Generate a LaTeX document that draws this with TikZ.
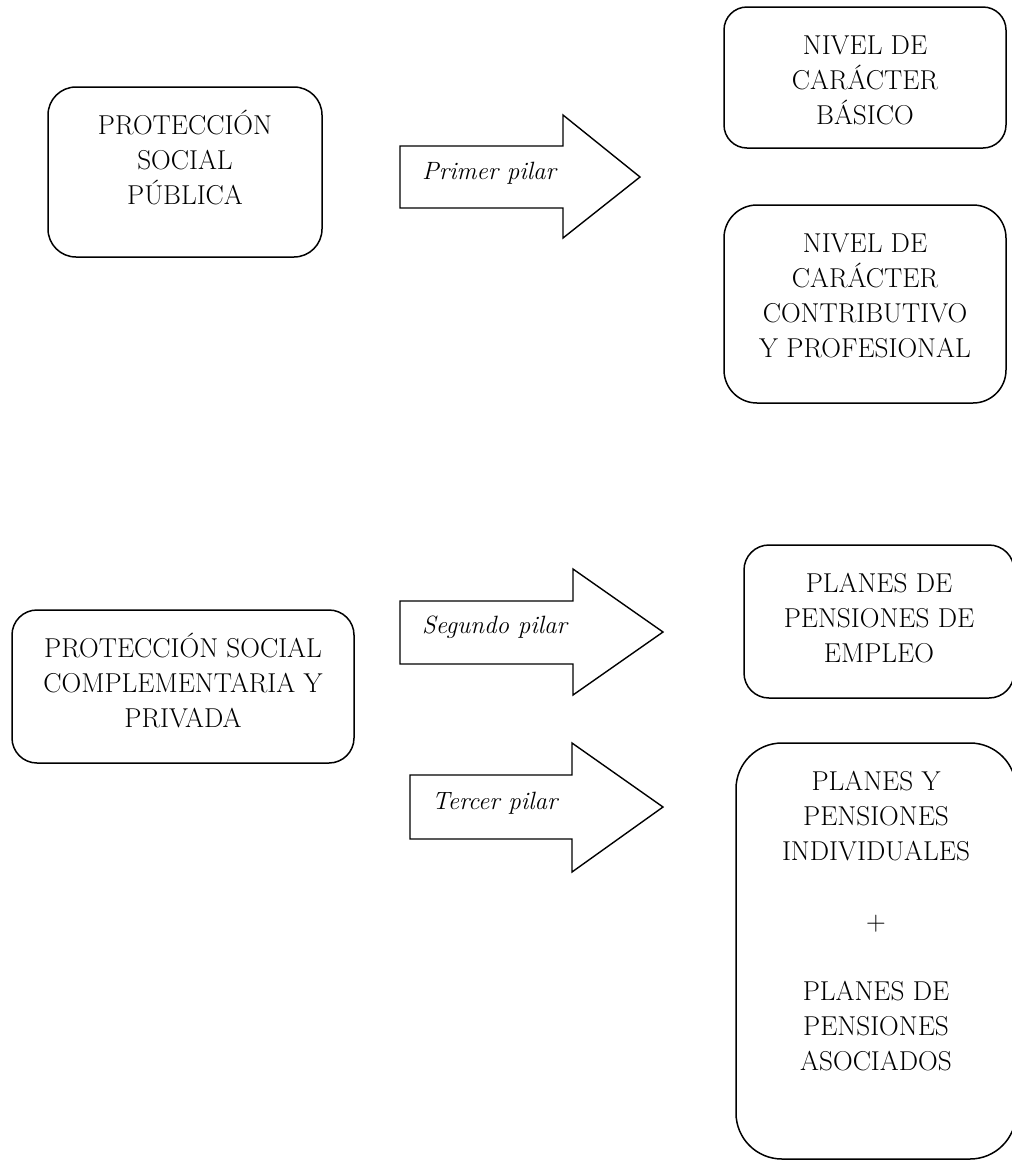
\documentclass[tikz,border=0pt]{standalone}
\usepackage{tikz}
\usetikzlibrary{positioning}

\begin{document}
\begin{tikzpicture}[
    x=1pt, y=-1pt,
    caja/.style={draw, line width=1.5pt, inner sep=0pt, rounded corners=#1},
    caja/.default=25pt,
    rotulo/.style={anchor=north, align=center, inner sep=0pt, font=\fontsize{27.3}{35}\selectfont},
    pilar/.style={draw, line width=1.4pt, line join=miter},
    nombre/.style={anchor=west, inner sep=0pt, font=\fontsize{25}{30}\selectfont\itshape}
]
\path[use as bounding box] (0,0) rectangle (1012,1160);

% primer pilar
\node[caja=28pt, minimum width=274pt, minimum height=170pt] (publica) at (185,172) {};
\node[rotulo, below=24pt of publica.north] (publica-txt) {\strut PROTECCIÓN\\ SOCIAL\\ PÚBLICA};

\node[caja=23pt, minimum width=282pt, minimum height=141pt] (basico) at (865,77.5) {};
\node[rotulo, below=24pt of basico.north] (basico-txt) {\strut NIVEL DE\\ CARÁCTER\\ BÁSICO};

\node[caja=33pt, minimum width=282pt, minimum height=198pt] (contrib) at (865,304) {};
\node[rotulo, below=24pt of contrib.north] (contrib-txt) {\strut NIVEL DE\\ CARÁCTER\\ CONTRIBUTIVO\\ Y PROFESIONAL};

\draw[pilar] (400,146) -- (563,146) -- (563,115) -- (640,177) -- (563,238) -- (563,208) -- (400,208) -- cycle;
\node[nombre] (primer) at (422,173) {Primer pilar};

% segundo y tercer pilar
\node[caja=25pt, minimum width=342pt, minimum height=153pt] (complem) at (183,686.5) {};
\node[rotulo, below=24pt of complem.north] (complem-txt) {\strut PROTECCIÓN SOCIAL\\ COMPLEMENTARIA Y\\ PRIVADA};

\node[caja=25pt, minimum width=270pt, minimum height=153pt] (empleo) at (879,621.5) {};
\node[rotulo, below=24pt of empleo.north] (empleo-txt) {\strut PLANES DE\\ PENSIONES DE\\ EMPLEO};

\node[caja=46pt, minimum width=280pt, minimum height=416pt] (indiv) at (876,951) {};
\node[rotulo, below=24pt of indiv.north] (indiv-txt) {\strut PLANES Y\\ PENSIONES\\ INDIVIDUALES\\[35pt] +\\[35pt] PLANES DE\\ PENSIONES\\ ASOCIADOS};

\draw[pilar] (400,601) -- (573,601) -- (573,569) -- (663,632) -- (573,695) -- (573,664) -- (400,664) -- cycle;
\node[nombre] (segundo) at (422,627) {Segundo pilar};

\draw[pilar] (410,775) -- (572,775) -- (572,743) -- (663,807) -- (572,872) -- (572,839) -- (410,839) -- cycle;
\node[nombre] (tercer) at (432,803) {Tercer pilar};
\end{tikzpicture}
\end{document}
